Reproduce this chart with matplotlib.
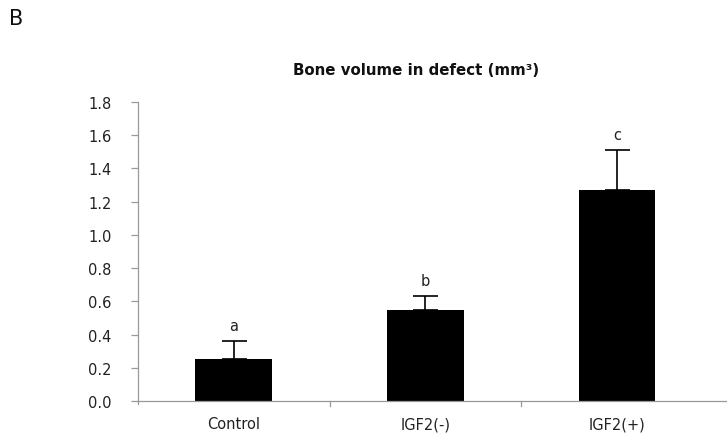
import matplotlib
matplotlib.use("Agg")
import matplotlib.pyplot as plt

categories = ["Control", "IGF2(-)", "IGF2(+)"]
means = [0.25, 0.55, 1.27]
errors = [0.11, 0.08, 0.24]
letters = ["a", "b", "c"]
yticks = [0.0, 0.2, 0.4, 0.6, 0.8, 1.0, 1.2, 1.4, 1.6, 1.8]

plt.rcParams['font.family'] = ['DejaVu Sans']

fig = plt.figure(figsize=(7.27, 4.39), dpi=100)
ax = fig.add_axes([138/727, 1 - 402/439, (726-138)/727, (402-103)/439])

x = list(range(len(categories)))
ax.bar(x, means, width=0.40, color="black", zorder=2)
ax.errorbar(x, means, yerr=[[0]*len(errors), errors], fmt="none",
            ecolor="black", elinewidth=1.2, capsize=9, capthick=1.2, zorder=3)
for xi, m, e, l in zip(x, means, errors, letters):
    ax.text(xi, m + e + 0.05, l, ha="center", va="bottom", fontsize=10.5,
            color="#222222")

ax.set_ylim(0, 1.8)
ax.set_xlim(-0.5, 2.57)
ax.set_yticks(yticks)
ax.set_yticklabels([f"{v:.1f}" for v in yticks], fontsize=10.5, color="#222222")
ax.set_xticks(x)
ax.set_xticklabels(categories, fontsize=10.5, color="#222222")
ax.tick_params(axis="x", length=0, pad=11)
ax.tick_params(axis="y", length=5, color="#999999", width=0.9, pad=14)

# category boundary ticks
for b in [0.5, 1.5]:
    ax.plot([b, b], [0, -0.03], color="#999999", lw=0.9, clip_on=False)
ax.plot([-0.5, -0.5], [0, -0.02], color="#999999", lw=0.9, clip_on=False)

for s in ["top", "right"]:
    ax.spines[s].set_visible(False)
for s in ["left", "bottom"]:
    ax.spines[s].set_color("#999999")
    ax.spines[s].set_linewidth(0.9)

fig.text(416/727, 1 - 75/439, "Bone volume in defect (mm³)", ha="center",
         va="baseline", fontsize=10.8, fontweight="bold", color="#111111")
fig.text(9/727, 1 - 25/439, "B", ha="left", va="baseline", fontsize=15,
         color="#111111")

fig.savefig("out.png", dpi=100)
